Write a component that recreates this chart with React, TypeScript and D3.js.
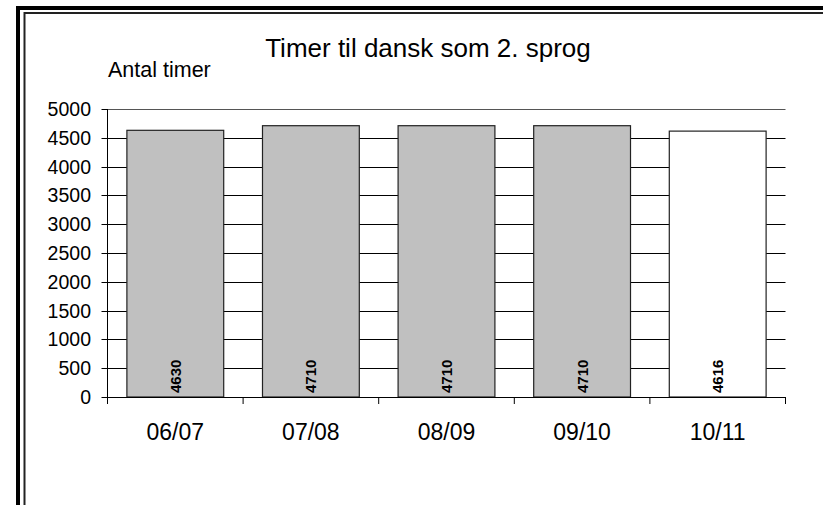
import React from "react";
import * as d3 from "d3";

const categories = ["06/07", "07/08", "08/09", "09/10", "10/11"];
const values = [4630, 4710, 4710, 4710, 4616];
const barFills = ["#c0c0c0", "#c0c0c0", "#c0c0c0", "#c0c0c0", "#ffffff"];
const yTicks = [0, 500, 1000, 1500, 2000, 2500, 3000, 3500, 4000, 4500, 5000];

const W = 823;
const H = 505;
const plot = { left: 107.5, right: 785.5, top: 109, bottom: 397 };
const font = "'Liberation Sans', Arial, sans-serif";

export default function App() {
  const x = d3
    .scaleBand<string>()
    .domain(categories)
    .range([plot.left, plot.right])
    .paddingInner(0.286)
    .paddingOuter(0.143);
  const y = d3.scaleLinear().domain([0, 5000]).range([plot.bottom, plot.top]);

  // band boundaries for the x tick marks
  const step = x.step();
  const bounds = d3.range(categories.length + 1).map((i) => plot.left + i * step);

  return (
    <svg
      width={W}
      height={H}
      style={{ position: "absolute", left: 0, top: 0, background: "#fff" }}
      fontFamily={font}
    >
      {/* frame */}
      <rect x={18} y={8} width={900} height={600} fill="none" stroke="#000" strokeWidth={4} />
      <rect x={24.5} y={13} width={900} height={600} fill="none" stroke="#222" strokeWidth={2} />

      {/* gridlines */}
      {yTicks.slice(1).map((t) => (
        <line
          key={"g" + t}
          x1={plot.left}
          x2={plot.right}
          y1={Math.round(y(t)) + 0.5}
          y2={Math.round(y(t)) + 0.5}
          stroke={t === 5000 ? "#555" : "#000"}
          strokeWidth={1}
        />
      ))}

      {/* bars */}
      {values.map((v, i) => (
        <rect
          key={"b" + i}
          x={x(categories[i])!}
          y={y(v)}
          width={x.bandwidth()}
          height={plot.bottom - y(v)}
          fill={barFills[i]}
          stroke="#222"
          strokeWidth={1.2}
        />
      ))}

      {/* data labels */}
      {values.map((v, i) => {
        const cx = x(categories[i])! + x.bandwidth() / 2;
        const cy = plot.bottom - 4;
        return (
          <text
            key={"l" + i}
            transform={`translate(${cx + 5.5},${cy}) rotate(-90)`}
            fontSize={15}
            fontWeight="bold"
            fill="#000"
          >
            {v}
          </text>
        );
      })}

      {/* y axis */}
      <line x1={plot.left} x2={plot.left} y1={plot.top} y2={plot.bottom + 7} stroke="#000" strokeWidth={1} />
      {yTicks.map((t) => (
        <g key={"y" + t}>
          <line
            x1={plot.left - 6}
            x2={plot.left}
            y1={Math.round(y(t)) + 0.5}
            y2={Math.round(y(t)) + 0.5}
            stroke="#000"
          />
          <text
            x={91}
            y={y(t)}
            dy="0.36em"
            textAnchor="end"
            fontSize={19.5}
            fill="#000"
          >
            {t}
          </text>
        </g>
      ))}

      {/* x axis */}
      <line x1={plot.left} x2={plot.right} y1={plot.bottom + 0.5} y2={plot.bottom + 0.5} stroke="#000" />
      {bounds.map((b, i) => (
        <line key={"xt" + i} x1={b} x2={b} y1={plot.bottom} y2={plot.bottom + 7} stroke="#000" />
      ))}
      {categories.map((c) => (
        <text
          key={"x" + c}
          x={x(c)! + x.bandwidth() / 2}
          y={440}
          textAnchor="middle"
          fontSize={23}
          fill="#000"
        >
          {c}
        </text>
      ))}

      {/* titles */}
      <text x={428} y={57} textAnchor="middle" fontSize={26} fill="#000">
        Timer til dansk som 2. sprog
      </text>
      <text x={108} y={77} fontSize={21.5} fill="#000">
        Antal timer
      </text>
    </svg>
  );
}
